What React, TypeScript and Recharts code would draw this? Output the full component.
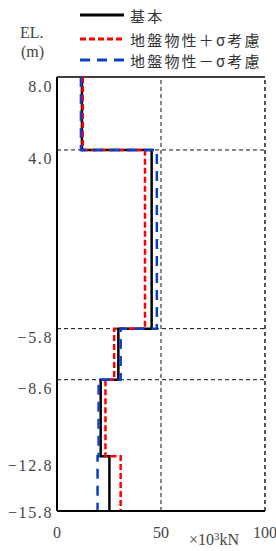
import { Line, LineChart, ReferenceLine, XAxis, YAxis } from "recharts";

// layer boundaries (EL. m), top to bottom
const elevations = [8.0, 4.0, -5.8, -8.6, -12.8, -15.8];
// values per layer (×10³kN)
const baseValues = [12, 45.5, 29.5, 21, 25.2];
const plusValues = [12.4, 42.3, 27.5, 23.3, 30.6];
const minusValues = [11.5, 48, 30.6, 20, 19.5];

const xTicks = [0, 50, 100];
const gridEls = [4.0, -5.8, -8.6];
const gridXs = [50, 100];

const seriesNames = {
  base: "基本",
  plus: "地盤物性＋σ考慮",
  minus: "地盤物性－σ考慮",
};

// step profile: each layer contributes its top and bottom point
const rows: Array<{ el: number; base: number; plus: number; minus: number }> = [];
baseValues.forEach((_, i) => {
  [elevations[i], elevations[i + 1]].forEach((el) => {
    rows.push({ el, base: baseValues[i], plus: plusValues[i], minus: minusValues[i] });
  });
});

const bottomEl = elevations[elevations.length - 1];
const serif = "'Liberation Serif', 'DejaVu Serif', serif";
const cjk = "'Noto Sans CJK JP', 'Noto Sans', sans-serif";

function YTick({ x, y, payload }: any) {
  const v: number = payload.value;
  const label = v.toFixed(1).replace("-", "−");
  return (
    <text
      x={x + 4}
      y={y + (v === bottomEl ? 1 : 9)}
      textAnchor="end"
      dominantBaseline="central"
      fontFamily={serif}
      fontSize={16}
      letterSpacing={1.6}
      fill="#444"
    >
      {label}
    </text>
  );
}

function XTick({ x, y, payload }: any) {
  return (
    <text
      x={x}
      y={y + 13}
      textAnchor="middle"
      dominantBaseline="central"
      fontFamily={serif}
      fontSize={16}
      fill="#444"
    >
      {payload.value}
    </text>
  );
}

const legendItems = [
  { key: "base", color: "#000", dash: undefined },
  { key: "plus", color: "#ff0000", dash: "6 3" },
  { key: "minus", color: "#0a3fcc", dash: "10 7" },
] as const;

function LegendBox() {
  return (
    <svg width={200} height={72} style={{ position: "absolute", left: 78, top: 0 }}>
      {legendItems.map((it, i) => {
        const cy = [15, 39, 60][i];
        return (
          <g key={it.key}>
            <line x1={2} x2={46} y1={cy} y2={cy} stroke={it.color} strokeWidth={3} strokeDasharray={it.dash} />
            <text x={52} y={cy} dominantBaseline="central" fontFamily={cjk} fontSize={15} letterSpacing={2.2} fill="#333">
              {seriesNames[it.key]}
            </text>
          </g>
        );
      })}
    </svg>
  );
}

export default function App() {
  return (
    <div style={{ position: "absolute", left: 0, top: 0, width: 276, height: 551, background: "#fff", overflow: "hidden" }}>
      <LineChart
        width={276}
        height={551}
        layout="vertical"
        data={rows}
        margin={{ top: 77, right: 11, left: 0, bottom: 0 }}
      >
        <XAxis
          type="number"
          domain={[0, 100]}
          ticks={xTicks}
          axisLine={{ stroke: "#000", strokeWidth: 2 }}
          tickLine={false}
          tick={<XTick />}
          height={40}
          interval={0}
        />
        <YAxis
          type="number"
          dataKey="el"
          domain={[bottomEl, elevations[0]]}
          ticks={elevations}
          reversed
          axisLine={{ stroke: "#000", strokeWidth: 2 }}
          tickLine={false}
          tick={<YTick />}
          width={57}
          interval={0}
        />
        {gridEls.map((el) => (
          <ReferenceLine key={el} y={el} stroke="#111" strokeDasharray="4 3" />
        ))}
        {gridXs.map((v) => (
          <ReferenceLine key={v} x={v} stroke={v === 100 ? "#555" : "#111"} strokeWidth={v === 100 ? 2 : 1} strokeDasharray="4 3" />
        ))}
        <ReferenceLine y={elevations[0]} stroke="#000" strokeWidth={1.5} />
        <Line dataKey="base" name={seriesNames.base} stroke="#000" strokeWidth={2.5} dot={false} isAnimationActive={false} />
        <Line dataKey="plus" name={seriesNames.plus} stroke="#ff0000" strokeWidth={2.5} strokeDasharray="6 3" dot={false} isAnimationActive={false} />
        <Line dataKey="minus" name={seriesNames.minus} stroke="#0a3fcc" strokeWidth={2.5} strokeDasharray="10 7" dot={false} isAnimationActive={false} />
      </LineChart>
      <LegendBox />
      <div style={{ position: "absolute", left: 20, top: 24, fontFamily: serif, fontSize: 16, color: "#444" }}>EL.</div>
      <div style={{ position: "absolute", left: 21, top: 43, fontFamily: serif, fontSize: 16, color: "#444" }}>(m)</div>
      <div style={{ position: "absolute", left: 189, top: 531, fontFamily: serif, fontSize: 16, color: "#444", lineHeight: "17px", whiteSpace: "nowrap" }}>
        ×10<sup style={{ fontSize: 11, lineHeight: "10px", verticalAlign: "5px" }}>3</sup>kN
      </div>
    </div>
  );
}
